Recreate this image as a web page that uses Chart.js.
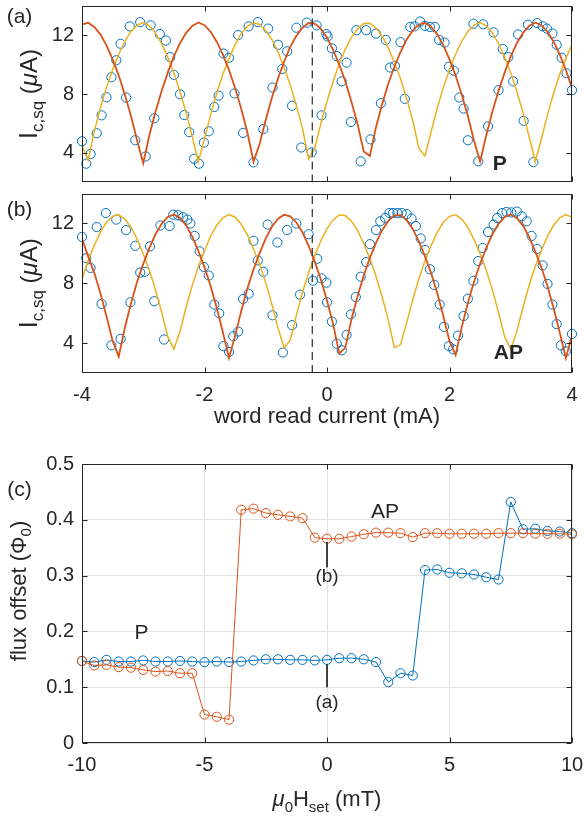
<!DOCTYPE html>
<html>
<head>
<meta charset="utf-8">
<script src="https://cdn.jsdelivr.net/npm/chart.js@4.4.1/dist/chart.umd.min.js"></script>
<style>
  html, body { margin: 0; padding: 0; background: #fff; }
  #page { position: relative; width: 584px; height: 818px; overflow: hidden; }
  #page canvas { position: absolute; left: 0; }
</style>
</head>
<body>
<div id="page">
  <canvas id="chart-a" width="584" height="188" style="top:0px"></canvas>
  <canvas id="chart-b" width="584" height="252" style="top:188px"></canvas>
  <canvas id="chart-c" width="584" height="378" style="top:440px"></canvas>
</div>
<script>
const FONT = '"Liberation Sans", Arial, Helvetica, sans-serif';
const INK = '#262626';
const BLUE = '#0072BD';
const RED = '#D95319';
const YELLOW = '#EDB120';

// ---- panels (a) and (b): critical current vs word read current ----
const currentTicks = [-4, -2, 0, 2, 4];
const icTicks = [4, 8, 12];
const dashCurrent = -0.24;

const fitCurrent = [
  -4.0, -3.9, -3.8, -3.7, -3.6, -3.5, -3.4, -3.3, -3.2, -3.1,
  -3.0, -2.9, -2.8, -2.7, -2.6, -2.5, -2.4, -2.3, -2.2, -2.1,
  -2.0, -1.9, -1.8, -1.7, -1.6, -1.5, -1.4, -1.3, -1.2, -1.1,
  -1.0, -0.9, -0.8, -0.7, -0.6, -0.5, -0.4, -0.3, -0.2, -0.1,
  0.0, 0.1, 0.2, 0.3, 0.4, 0.5, 0.6, 0.7, 0.8, 0.9,
  1.0, 1.1, 1.2, 1.3, 1.4, 1.5, 1.6, 1.7, 1.8, 1.9,
  2.0, 2.1, 2.2, 2.3, 2.4, 2.5, 2.6, 2.7, 2.8, 2.9,
  3.0, 3.1, 3.2, 3.3, 3.4, 3.5, 3.6, 3.7, 3.8, 3.9,
  4.0
];

const redFitA = [
  12.73, 12.83, 12.55, 12.05, 11.3, 10.35, 9.25, 7.95, 6.5, 4.85,
  3.3, 5.2, 6.8, 8.2, 9.45, 10.55, 11.45, 12.15, 12.62, 12.85,
  12.67, 12.23, 11.55, 10.67, 9.63, 8.4, 7.0, 5.4, 3.4, 4.6,
  6.25, 7.75, 9.05, 10.2, 11.2, 11.95, 12.5, 12.82, 12.78, 12.42,
  11.83, 11.0, 10.0, 8.85, 7.45, 5.95, 4.1, 3.8, 5.75, 7.3,
  8.7, 9.85, 10.85, 11.7, 12.3, 12.72, 12.83, 12.55, 12.05, 11.3,
  10.35, 9.25, 7.95, 6.5, 4.85, 3.4, 5.2, 6.8, 8.2, 9.45,
  10.55, 11.45, 12.15, 12.62, 12.85, 12.67, 12.23, 11.55, 10.67, 9.63,
  8.4
];

const yellowFitA = [
  4.5, 3.5, 5.45, 7.05, 8.45, 9.65, 10.7, 11.58, 12.25, 12.68,
  12.85, 12.62, 12.15, 11.42, 10.5, 9.45, 8.15, 6.75, 5.1, 3.4,
  4.95, 6.6, 8.05, 9.35, 10.4, 11.35, 12.1, 12.6, 12.84, 12.72,
  12.3, 11.7, 10.85, 9.8, 8.6, 7.2, 5.65, 3.6, 4.3, 6.0,
  7.5, 8.85, 10.05, 11.05, 11.85, 12.42, 12.78, 12.8, 12.48, 11.93,
  11.15, 10.15, 9.05, 7.7, 6.2, 4.3, 3.8, 5.45, 7.05, 8.45,
  9.65, 10.7, 11.58, 12.25, 12.68, 12.85, 12.62, 12.15, 11.42, 10.5,
  9.45, 8.15, 6.75, 5.1, 3.4, 4.95, 6.6, 8.05, 9.35, 10.4,
  11.35
];

const redFitB = [
  11.0, 9.8, 8.7, 7.35, 5.8, 4.15, 3.1, 5.05, 6.65, 8.1,
  9.3, 10.35, 11.28, 11.98, 12.44, 12.6, 12.37, 11.87, 11.12, 10.15,
  9.08, 7.82, 6.35, 4.72, 3.0, 4.5, 6.15, 7.65, 8.92, 10.02,
  11.0, 11.78, 12.32, 12.58, 12.48, 12.07, 11.4, 10.5, 9.45, 8.25,
  6.85, 5.27, 3.3, 3.7, 5.6, 7.15, 8.52, 9.7, 10.7, 11.55,
  12.17, 12.55, 12.56, 12.22, 11.64, 10.8, 9.8, 8.68, 7.35, 5.8,
  4.13, 3.2, 5.07, 6.68, 8.1, 9.32, 10.37, 11.28, 11.97, 12.44,
  12.6, 12.36, 11.86, 11.1, 10.14, 9.07, 7.8, 6.33, 4.7, 3.0,
  4.5
];

const yellowFitB = [
  8.3, 9.5, 10.53, 11.42, 12.08, 12.48, 12.58, 12.3, 11.75, 10.95,
  9.98, 8.88, 7.57, 6.07, 4.45, 3.6, 4.78, 6.4, 7.86, 9.12,
  10.18, 11.15, 11.88, 12.38, 12.6, 12.42, 11.95, 11.25, 10.3, 9.27,
  8.03, 6.6, 5.0, 3.7, 4.2, 5.85, 7.4, 8.72, 9.85, 10.85,
  11.66, 12.24, 12.57, 12.53, 12.15, 11.53, 10.65, 9.65, 8.47, 7.1,
  5.55, 3.7, 3.9, 5.35, 6.9, 8.3, 9.5, 10.53, 11.42, 12.08,
  12.48, 12.58, 12.3, 11.75, 10.94, 9.97, 8.87, 7.56, 6.05, 4.43,
  3.6, 4.8, 6.4, 7.87, 9.13, 10.2, 11.15, 11.88, 12.38, 12.6,
  12.42
];

const circleCurrentA = [
  -4.0, -3.93, -3.86, -3.76, -3.68, -3.6, -3.52, -3.44, -3.37, -3.28,
  -3.22, -3.13, -3.05, -2.96, -2.88, -2.82, -2.73, -2.63, -2.56, -2.5,
  -2.4, -2.33, -2.25, -2.17, -2.09, -2.01, -1.93, -1.84, -1.77, -1.69,
  -1.6, -1.51, -1.45, -1.37, -1.28, -1.2, -1.13, -1.04, -0.96, -0.89,
  -0.8, -0.73, -0.65, -0.57, -0.5, -0.42, -0.33, -0.25, -0.17, -0.09,
  -0.01, 0.01, 0.08, 0.16, 0.24, 0.32, 0.39, 0.48, 0.55, 0.64,
  0.71, 0.8, 0.88, 0.96, 1.03, 1.11, 1.2, 1.27, 1.36, 1.43,
  1.52, 1.6, 1.68, 1.76, 1.83, 1.92, 1.99, 2.07, 2.16, 2.23,
  2.3, 2.39, 2.47, 2.55, 2.63, 2.72, 2.8, 2.87, 2.96, 3.04,
  3.12, 3.21, 3.28, 3.37, 3.43, 3.52, 3.59, 3.68, 3.75, 3.83,
  3.91, 4.0
];
const circleIcA = [
  4.79, 3.27, 3.93, 5.34, 6.55, 7.78, 9.14, 10.29, 11.41, 7.76,
  12.59, 4.86, 12.88, 3.76, 12.66, 6.35, 12.07, 11.63, 10.5, 9.3,
  7.98, 6.57, 5.41, 3.6, 3.27, 4.7, 5.47, 7.12, 7.89, 10.75,
  10.46, 8.04, 12.0, 5.36, 12.59, 3.36, 12.88, 5.62, 12.44, 8.44,
  11.34, 9.7, 10.9, 7.2, 12.5, 4.37, 12.84, 4.04, 12.66, 6.55,
  12.07, 11.9, 11.1, 10.57, 8.86, 10.13, 6.1, 12.33, 3.43, 12.33,
  4.92, 12.1, 7.38, 11.67, 9.8, 9.91, 11.52, 7.67, 12.55, 12.59,
  12.92, 12.62, 12.55, 12.55, 11.67, 11.49, 9.85, 9.58, 7.76, 7.01,
  4.86, 12.77, 3.43, 12.73, 5.8, 12.18, 8.26, 11.05, 10.5, 8.86,
  12.04, 6.18, 12.7, 3.38, 12.81, 12.59, 12.44, 12.11, 11.34, 10.46,
  9.41, 8.26
];

const circleCurrentB = [
  -4.0, -3.93, -3.86, -3.76, -3.68, -3.61, -3.52, -3.44, -3.37, -3.28,
  -3.21, -3.13, -3.05, -2.97, -2.89, -2.82, -2.72, -2.66, -2.57, -2.51,
  -2.43, -2.35, -2.28, -2.23, -2.16, -2.08, -2.01, -1.93, -1.84, -1.76,
  -1.69, -1.6, -1.53, -1.45, -1.37, -1.28, -1.2, -1.13, -1.04, -0.97,
  -0.89, -0.81, -0.72, -0.65, -0.57, -0.5, -0.44, -0.3, -0.23, -0.16,
  -0.09, -0.01, 0.0, 0.08, 0.16, 0.24, 0.32, 0.39, 0.47, 0.55,
  0.64, 0.7, 0.8, 0.87, 0.95, 1.02, 1.08, 1.15, 1.22, 1.3,
  1.38, 1.45, 1.53, 1.6, 1.68, 1.75, 1.84, 1.91, 1.99, 2.06,
  2.14, 2.23, 2.3, 2.39, 2.47, 2.54, 2.63, 2.72, 2.78, 2.86,
  2.93, 3.01, 3.1, 3.18, 3.26, 3.34, 3.43, 3.52, 3.6, 3.68,
  3.75, 3.82, 3.9, 4.0
];
const circleIcB = [
  11.1, 9.68, 9.03, 11.76, 6.62, 12.7, 3.85, 12.26, 4.28, 11.56,
  6.73, 10.51, 8.72, 8.77, 10.47, 6.8, 11.87, 4.24, 11.83, 12.59,
  12.55, 12.42, 12.26, 12.0, 11.17, 10.14, 9.09, 8.52, 6.58, 5.99,
  3.8, 3.41, 4.46, 4.77, 6.95, 7.3, 10.84, 9.53, 8.77, 11.93,
  5.86, 10.73, 3.37, 11.56, 5.2, 12.0, 7.24, 11.28, 8.17, 9.64,
  8.33, 8.04, 6.73, 5.44, 3.96, 3.52, 4.55, 5.92, 7.08, 8.44,
  9.42, 10.62, 11.56, 12.15, 12.37, 12.7, 12.7, 12.7, 12.7, 12.63,
  12.33, 11.83, 11.0, 10.23, 8.94, 7.89, 6.58, 5.09, 3.8, 3.58,
  4.5, 5.81, 6.97, 8.17, 9.49, 10.36, 11.43, 11.93, 12.37, 12.7,
  12.77, 12.74, 12.8, 12.48, 12.15, 11.17, 10.3, 9.2, 7.96, 6.58,
  5.27, 3.85, 3.45, 4.61
];

// ---- panel (c): flux offset vs set field ----
const fieldTicksStep = 5;
const fluxTicksStep = 0.1;
const fieldSweep = [
  -10, -9.5, -9, -8.5, -8, -7.5, -7, -6.5, -6, -5.5,
  -5, -4.5, -4, -3.5, -3, -2.5, -2, -1.5, -1, -0.5,
  0, 0.5, 1, 1.5, 2, 2.5, 3, 3.5, 4, 4.5,
  5, 5.5, 6, 6.5, 7, 7.5, 8, 8.5, 9, 9.5,
  10
];
const fluxOffsetP = [
  0.147, 0.145, 0.149, 0.146, 0.146, 0.148, 0.146, 0.146, 0.147, 0.146,
  0.145, 0.146, 0.145, 0.146, 0.148, 0.150, 0.150, 0.149, 0.149, 0.148,
  0.149, 0.152, 0.152, 0.150, 0.145, 0.109, 0.125, 0.121, 0.310, 0.311,
  0.305, 0.304, 0.302, 0.297, 0.293, 0.432, 0.383, 0.384, 0.380, 0.379,
  0.376
];
const fluxOffsetAP = [
  0.147, 0.139, 0.140, 0.136, 0.135, 0.131, 0.128, 0.129, 0.125, 0.125,
  0.051, 0.047, 0.042, 0.418, 0.420, 0.412, 0.409, 0.406, 0.403, 0.368,
  0.366, 0.366, 0.370, 0.374, 0.377, 0.377, 0.376, 0.369, 0.376, 0.376,
  0.375, 0.375, 0.375, 0.375, 0.376, 0.376, 0.376, 0.375, 0.375, 0.375,
  0.374
];
const markerA = { field: 0, from: 0.141, to: 0.100, textAt: 0.072 };
const markerB = { field: 0, from: 0.360, to: 0.315, textAt: 0.297 };
const stateLabelP = { field: -7.57, flux: 0.199 };
const stateLabelAP = { field: 2.37, flux: 0.416 };
const boldLabelA = { current: 2.82, ic: 3.38 };
const boldLabelB = { current: 2.96, ic: 3.46 };

const TICK = 5;

function toPoints(xs, ys) {
  return xs.map((x, i) => ({ x, y: ys[i] }));
}

function richText(ctx, parts, x, y, angle = 0) {
  const fontOf = (p) => `${p.italic ? 'italic ' : ''}${p.bold ? 'bold ' : ''}${p.size}px ${FONT}`;
  ctx.save();
  ctx.translate(x, y);
  ctx.rotate(angle);
  ctx.fillStyle = INK;
  ctx.textAlign = 'left';
  ctx.textBaseline = 'alphabetic';
  let total = 0;
  const widths = parts.map((p) => {
    ctx.font = fontOf(p);
    const w = ctx.measureText(p.text).width;
    total += w;
    return w;
  });
  let cx = -total / 2;
  parts.forEach((p, i) => {
    ctx.font = fontOf(p);
    ctx.fillText(p.text, cx, p.dy || 0);
    cx += widths[i];
  });
  ctx.restore();
}

function framePlugin(drawExtras) {
  return {
    id: 'matlabFrame',
    afterDraw(chart) {
      const { ctx, chartArea: a, scales: { x, y } } = chart;
      const L = Math.round(a.left) + 0.5;
      const R = Math.round(a.right) - 0.5;
      const T = Math.round(a.top) + 0.5;
      const B = Math.round(a.bottom) - 0.5;
      ctx.save();
      ctx.strokeStyle = INK;
      ctx.lineWidth = 1;
      ctx.strokeRect(L, T, R - L, B - T);
      ctx.beginPath();
      x.ticks.forEach((t) => {
        const px = Math.round(x.getPixelForValue(t.value)) + 0.5;
        ctx.moveTo(px, B); ctx.lineTo(px, B - TICK);
        ctx.moveTo(px, T); ctx.lineTo(px, T + TICK);
      });
      y.ticks.forEach((t) => {
        const py = Math.round(y.getPixelForValue(t.value)) + 0.5;
        ctx.moveTo(L, py); ctx.lineTo(L + TICK, py);
        ctx.moveTo(R, py); ctx.lineTo(R - TICK, py);
      });
      ctx.stroke();
      ctx.restore();
      drawExtras(chart, ctx);
    }
  };
}

const tickFont = { family: FONT, size: 20 };

// fixed plot boxes: no label overhang padding from the scales
function fitX(height) {
  return (s) => { s.height = height; s.paddingLeft = 0; s.paddingRight = 0; };
}
function fitY(s) {
  s.width = 82; s.paddingTop = 0; s.paddingBottom = 0;
}

function icScales(showLabels, xHeight) {
  return {
    x: {
      type: 'linear',
      min: -4,
      max: 4,
      afterBuildTicks: (s) => { s.ticks = currentTicks.map((v) => ({ value: v })); },
      grid: { display: false, drawTicks: false },
      border: { display: false },
      ticks: { display: showLabels, color: INK, font: tickFont, padding: 10, maxRotation: 0, autoSkip: false },
      afterFit: fitX(xHeight)
    },
    y: {
      type: 'linear',
      min: 2,
      max: 14,
      afterBuildTicks: (s) => { s.ticks = icTicks.map((v) => ({ value: v })); },
      grid: { display: false, drawTicks: false },
      border: { display: false },
      ticks: { color: INK, font: tickFont, padding: 8 },
      afterFit: fitY
    }
  };
}

function icDatasets(circleX, circleY, redFit, yellowFit) {
  return [
    {
      data: toPoints(fitCurrent, redFit),
      showLine: true, borderColor: RED, borderWidth: 1.8, pointRadius: 0, order: 1
    },
    {
      data: toPoints(fitCurrent, yellowFit),
      showLine: true, borderColor: YELLOW, borderWidth: 1.5, pointRadius: 0, order: 2
    },
    {
      data: [{ x: dashCurrent, y: 2 }, { x: dashCurrent, y: 14 }],
      showLine: true, borderColor: '#3a3a3a', borderWidth: 1.3, borderDash: [8, 5], pointRadius: 0, order: 0
    },
    {
      data: toPoints(circleX, circleY),
      showLine: false, pointRadius: 4.6, pointBorderWidth: 1,
      pointBorderColor: BLUE, pointBackgroundColor: 'rgba(0,0,0,0)', order: 3, clip: false
    }
  ];
}

const icTitle = [
  { text: 'I', size: 25 },
  { text: 'c,sq', size: 17, dy: 6 },
  { text: ' (', size: 24 },
  { text: 'μ', size: 24, italic: true },
  { text: 'A)', size: 24 }
];

const baseOptions = {
  responsive: false,
  animation: false,
  devicePixelRatio: 1,
  events: [],
  plugins: { legend: { display: false }, tooltip: { enabled: false } }
};

Chart.defaults.font.family = FONT;
Chart.defaults.color = INK;

// panel (a)
new Chart(document.getElementById('chart-a'), {
  type: 'scatter',
  data: { datasets: icDatasets(circleCurrentA, circleIcA, redFitA, yellowFitA) },
  options: {
    ...baseOptions,
    layout: { padding: { top: 3, right: 12, left: 0, bottom: 0 } },
    scales: icScales(false, 3)
  },
  plugins: [framePlugin((chart, ctx) => {
    const { chartArea: a, scales: { x, y } } = chart;
    richText(ctx, icTitle, 37, (a.top + a.bottom) / 2, -Math.PI / 2);
    richText(ctx, [{ text: '(a)', size: 21 }], 19.5, 23);
    richText(ctx, [{ text: 'P', size: 21, bold: true }],
      x.getPixelForValue(boldLabelA.current), y.getPixelForValue(boldLabelA.ic) + 7.5);
  })]
});

// panel (b)
new Chart(document.getElementById('chart-b'), {
  type: 'scatter',
  data: { datasets: icDatasets(circleCurrentB, circleIcB, redFitB, yellowFitB) },
  options: {
    ...baseOptions,
    layout: { padding: { top: 2, right: 12, left: 0, bottom: 0 } },
    scales: icScales(true, 67)
  },
  plugins: [framePlugin((chart, ctx) => {
    const { chartArea: a, scales: { x, y } } = chart;
    richText(ctx, icTitle, 37, (a.top + a.bottom) / 2, -Math.PI / 2);
    richText(ctx, [{ text: '(b)', size: 21 }], 19.5, 27.5);
    richText(ctx, [{ text: 'AP', size: 21, bold: true }],
      x.getPixelForValue(boldLabelB.current), y.getPixelForValue(boldLabelB.ic) + 7.5);
    richText(ctx, [{ text: 'word read current (mA)', size: 22 }], (a.left + a.right) / 2, 235);
  })]
});

// panel (c)
new Chart(document.getElementById('chart-c'), {
  type: 'scatter',
  data: {
    datasets: [
      {
        data: [{ x: markerB.field, y: markerB.from }, { x: markerB.field, y: markerB.to }],
        showLine: true, borderColor: INK, borderWidth: 1, pointRadius: 0, order: 0
      },
      {
        data: [{ x: markerA.field, y: markerA.from }, { x: markerA.field, y: markerA.to }],
        showLine: true, borderColor: INK, borderWidth: 1, pointRadius: 0, order: 0
      },
      {
        data: toPoints(fieldSweep, fluxOffsetAP),
        showLine: true, borderColor: RED, borderWidth: 1, pointRadius: 4.6, pointBorderWidth: 1,
        pointBorderColor: RED, pointBackgroundColor: 'rgba(0,0,0,0)', order: 1, clip: false
      },
      {
        data: toPoints(fieldSweep, fluxOffsetP),
        showLine: true, borderColor: BLUE, borderWidth: 1, pointRadius: 4.6, pointBorderWidth: 1,
        pointBorderColor: BLUE, pointBackgroundColor: 'rgba(0,0,0,0)', order: 2, clip: false
      }
    ]
  },
  options: {
    ...baseOptions,
    layout: { padding: { top: 24, right: 12, left: 0, bottom: 0 } },
    scales: {
      x: {
        type: 'linear',
        min: -10,
        max: 10,
        grid: { color: '#e2e2e2', drawTicks: false },
        border: { display: false },
        ticks: { stepSize: fieldTicksStep, color: INK, font: tickFont, padding: 10, maxRotation: 0, autoSkip: false },
        afterFit: fitX(75)
      },
      y: {
        type: 'linear',
        min: 0,
        max: 0.5,
        grid: { color: '#e2e2e2', drawTicks: false },
        border: { display: false },
        ticks: { stepSize: fluxTicksStep, color: INK, font: tickFont, padding: 8 },
        afterFit: fitY
      }
    }
  },
  plugins: [framePlugin((chart, ctx) => {
    const { chartArea: a, scales: { x, y } } = chart;
    richText(ctx, [{ text: '(c)', size: 21 }], 19.5, 55.5);
    richText(ctx, [
      { text: 'flux offset (', size: 22 },
      { text: 'Φ', size: 22 },
      { text: '0', size: 15, dy: 5 },
      { text: ')', size: 22 }
    ], 26, 151, -Math.PI / 2);
    richText(ctx, [
      { text: 'μ', size: 22, italic: true },
      { text: '0', size: 15, dy: 6 },
      { text: 'H', size: 22 },
      { text: 'set', size: 15, dy: 6 },
      { text: ' (mT)', size: 22 }
    ], (a.left + a.right) / 2, 366);
    richText(ctx, [{ text: 'P', size: 21 }], x.getPixelForValue(stateLabelP.field), y.getPixelForValue(stateLabelP.flux) + 7.5);
    richText(ctx, [{ text: 'AP', size: 21 }], x.getPixelForValue(stateLabelAP.field), y.getPixelForValue(stateLabelAP.flux) + 7.5);
    richText(ctx, [{ text: '(b)', size: 19 }], x.getPixelForValue(markerB.field), y.getPixelForValue(markerB.textAt) + 5);
    richText(ctx, [{ text: '(a)', size: 19 }], x.getPixelForValue(markerA.field), y.getPixelForValue(markerA.textAt) + 5);
  })]
});
</script>
</body>
</html>
